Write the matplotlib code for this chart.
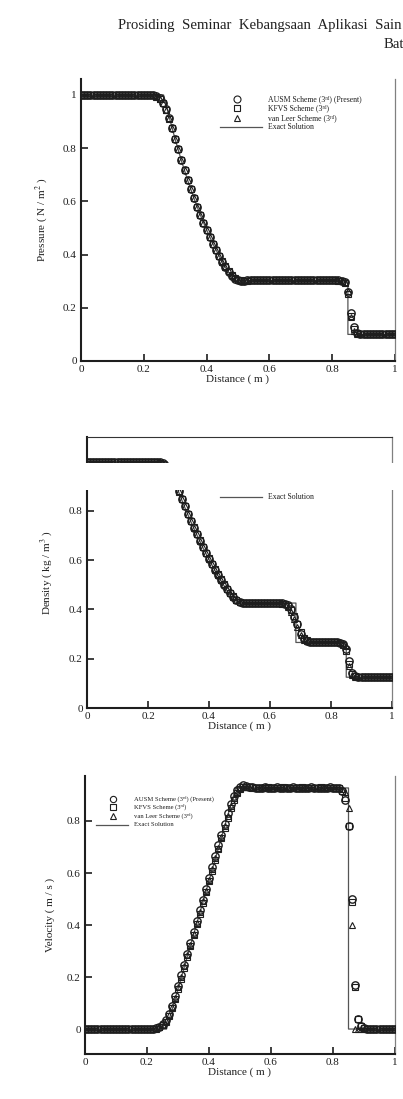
import numpy as np
import matplotlib
matplotlib.use('Agg')
import matplotlib.pyplot as plt
import matplotlib.transforms as mtransforms
from matplotlib.patches import Rectangle
from matplotlib.lines import Line2D
from matplotlib.ticker import FuncFormatter

plt.rcParams['font.family'] = ['Liberation Serif', 'DejaVu Serif']
plt.rcParams['mathtext.fontset'] = 'stix'

# mesh of the computed solution: 101 points on [0, 1]
x_cells = np.linspace(0.0, 1.0, 101)

# ---- pressure ----
exact_x_p = [0.0, 0.263, 0.28, 0.30, 0.32, 0.34, 0.36, 0.38, 0.40, 0.42, 0.44, 0.46, 0.48, 0.486, 0.850, 0.850, 1.0]
exact_p = [1.0, 1.0, 0.921, 0.833, 0.752, 0.678, 0.611, 0.549, 0.493, 0.441, 0.395, 0.352, 0.314, 0.303, 0.303, 0.100, 0.100]

p_ausm = [1.000, 1.000, 1.000, 1.000, 1.000, 1.000, 1.000, 1.000, 1.000, 1.000,
          1.000, 1.000, 1.000, 1.000, 1.000, 1.000, 1.000, 1.000, 1.000, 1.000,
          1.000, 1.000, 1.000, 0.999, 0.996, 0.988, 0.971, 0.946, 0.913, 0.875,
          0.835, 0.795, 0.756, 0.718, 0.681, 0.645, 0.611, 0.579, 0.548, 0.519,
          0.491, 0.465, 0.440, 0.416, 0.394, 0.373, 0.353, 0.336, 0.321, 0.310,
          0.304, 0.302, 0.302, 0.303, 0.303, 0.304, 0.303, 0.303, 0.303, 0.304,
          0.303, 0.303, 0.303, 0.304, 0.303, 0.303, 0.303, 0.303, 0.304, 0.303,
          0.303, 0.303, 0.304, 0.303, 0.303, 0.303, 0.303, 0.304, 0.303, 0.303,
          0.303, 0.303, 0.303, 0.302, 0.296, 0.258, 0.182, 0.126, 0.107, 0.102,
          0.101, 0.100, 0.100, 0.100, 0.100, 0.100, 0.100, 0.100, 0.100, 0.100,
          0.100]
p_kfvs = [1.000, 1.000, 1.000, 1.000, 1.000, 1.000, 1.000, 1.000, 1.000, 1.000,
          1.000, 1.000, 1.000, 1.000, 1.000, 1.000, 1.000, 1.000, 1.000, 1.000,
          1.000, 1.000, 0.999, 0.998, 0.994, 0.985, 0.968, 0.943, 0.911, 0.874,
          0.835, 0.796, 0.757, 0.719, 0.682, 0.646, 0.612, 0.580, 0.549, 0.520,
          0.492, 0.466, 0.441, 0.418, 0.396, 0.375, 0.356, 0.339, 0.324, 0.313,
          0.306, 0.303, 0.302, 0.302, 0.303, 0.303, 0.303, 0.303, 0.304, 0.303,
          0.303, 0.303, 0.303, 0.303, 0.303, 0.304, 0.303, 0.303, 0.303, 0.303,
          0.303, 0.304, 0.303, 0.303, 0.303, 0.303, 0.303, 0.303, 0.304, 0.303,
          0.303, 0.303, 0.302, 0.300, 0.292, 0.250, 0.170, 0.122, 0.106, 0.101,
          0.100, 0.100, 0.100, 0.100, 0.100, 0.100, 0.100, 0.100, 0.100, 0.100,
          0.100]
p_vanleer = [1.000, 1.000, 1.000, 1.000, 1.000, 1.000, 1.000, 1.000, 1.000, 1.000,
             1.000, 1.000, 1.000, 1.000, 1.000, 1.000, 1.000, 1.000, 1.000, 1.000,
             1.000, 1.000, 1.000, 0.999, 0.995, 0.986, 0.969, 0.944, 0.912, 0.874,
             0.835, 0.795, 0.756, 0.718, 0.681, 0.645, 0.611, 0.579, 0.548, 0.519,
             0.491, 0.465, 0.440, 0.417, 0.395, 0.374, 0.355, 0.338, 0.323, 0.312,
             0.305, 0.302, 0.302, 0.303, 0.303, 0.303, 0.304, 0.303, 0.303, 0.303,
             0.303, 0.304, 0.303, 0.303, 0.303, 0.303, 0.303, 0.304, 0.303, 0.303,
             0.303, 0.303, 0.303, 0.303, 0.304, 0.303, 0.303, 0.303, 0.303, 0.303,
             0.303, 0.303, 0.303, 0.302, 0.298, 0.262, 0.165, 0.112, 0.102, 0.100,
             0.100, 0.100, 0.100, 0.100, 0.100, 0.100, 0.100, 0.100, 0.100, 0.100,
             0.100]

# ---- density ----
exact_x_rho = [0.0, 0.263, 0.28, 0.30, 0.32, 0.34, 0.36, 0.38, 0.40, 0.42, 0.44, 0.46, 0.48, 0.486,
               0.685, 0.685, 0.850, 0.850, 1.0]
exact_rho = [1.0, 1.0, 0.943, 0.878, 0.816, 0.758, 0.703, 0.651, 0.603, 0.557, 0.515, 0.475, 0.437, 0.426,
             0.426, 0.266, 0.266, 0.125, 0.125]

rho_ausm = [1.000, 1.000, 1.000, 1.000, 1.000, 1.000, 1.000, 1.000, 1.000, 1.000,
            1.000, 1.000, 1.000, 1.000, 1.000, 1.000, 1.000, 1.000, 1.000, 1.000,
            1.000, 1.000, 1.000, 1.000, 0.998, 0.993, 0.981, 0.963, 0.939, 0.910,
            0.879, 0.848, 0.818, 0.789, 0.760, 0.732, 0.705, 0.679, 0.654, 0.630,
            0.606, 0.584, 0.562, 0.541, 0.521, 0.501, 0.483, 0.466, 0.450, 0.437,
            0.429, 0.426, 0.425, 0.426, 0.426, 0.426, 0.427, 0.426, 0.426, 0.426,
            0.426, 0.426, 0.426, 0.426, 0.425, 0.423, 0.418, 0.400, 0.370, 0.340,
            0.302, 0.281, 0.271, 0.267, 0.266, 0.266, 0.266, 0.266, 0.266, 0.266,
            0.266, 0.266, 0.266, 0.265, 0.258, 0.240, 0.190, 0.143, 0.129, 0.126,
            0.125, 0.125, 0.125, 0.125, 0.125, 0.125, 0.125, 0.125, 0.125, 0.125,
            0.125]
rho_kfvs = [1.000, 1.000, 1.000, 1.000, 1.000, 1.000, 1.000, 1.000, 1.000, 1.000,
            1.000, 1.000, 1.000, 1.000, 1.000, 1.000, 1.000, 1.000, 1.000, 1.000,
            1.000, 1.000, 1.000, 0.999, 0.996, 0.990, 0.977, 0.959, 0.936, 0.908,
            0.878, 0.848, 0.818, 0.789, 0.761, 0.733, 0.706, 0.680, 0.655, 0.631,
            0.607, 0.585, 0.563, 0.542, 0.522, 0.503, 0.485, 0.468, 0.453, 0.440,
            0.431, 0.427, 0.426, 0.425, 0.426, 0.426, 0.426, 0.426, 0.427, 0.426,
            0.426, 0.426, 0.426, 0.425, 0.424, 0.421, 0.414, 0.398, 0.372, 0.342,
            0.308, 0.286, 0.274, 0.269, 0.267, 0.266, 0.266, 0.266, 0.266, 0.266,
            0.266, 0.266, 0.266, 0.265, 0.256, 0.232, 0.180, 0.140, 0.128, 0.126,
            0.125, 0.125, 0.125, 0.125, 0.125, 0.125, 0.125, 0.125, 0.125, 0.125,
            0.125]
rho_vanleer = [1.000, 1.000, 1.000, 1.000, 1.000, 1.000, 1.000, 1.000, 1.000, 1.000,
               1.000, 1.000, 1.000, 1.000, 1.000, 1.000, 1.000, 1.000, 1.000, 1.000,
               1.000, 1.000, 1.000, 1.000, 0.997, 0.991, 0.979, 0.961, 0.937, 0.909,
               0.879, 0.848, 0.818, 0.789, 0.760, 0.732, 0.705, 0.679, 0.654, 0.630,
               0.606, 0.584, 0.562, 0.541, 0.521, 0.502, 0.484, 0.467, 0.452, 0.439,
               0.430, 0.426, 0.425, 0.426, 0.426, 0.426, 0.426, 0.427, 0.426, 0.426,
               0.426, 0.426, 0.426, 0.426, 0.425, 0.422, 0.410, 0.390, 0.362, 0.330,
               0.296, 0.278, 0.270, 0.267, 0.266, 0.266, 0.266, 0.266, 0.266, 0.266,
               0.266, 0.266, 0.266, 0.266, 0.262, 0.250, 0.170, 0.132, 0.126, 0.125,
               0.125, 0.125, 0.125, 0.125, 0.125, 0.125, 0.125, 0.125, 0.125, 0.125,
               0.125]

# ---- velocity ----
exact_x_u = [0.0, 0.263, 0.486, 0.850, 0.850, 1.0]
exact_u = [0.0, 0.0, 0.927, 0.927, 0.0, 0.0]

u_ausm = [0.000, 0.000, 0.000, 0.000, 0.000, 0.000, 0.000, 0.000, 0.000, 0.000,
          0.000, 0.000, 0.000, 0.000, 0.000, 0.000, 0.000, 0.000, 0.000, 0.000,
          0.000, 0.000, 0.001, 0.003, 0.008, 0.018, 0.034, 0.058, 0.090, 0.127,
          0.166, 0.207, 0.248, 0.290, 0.331, 0.373, 0.414, 0.456, 0.497, 0.539,
          0.580, 0.622, 0.664, 0.706, 0.748, 0.790, 0.830, 0.866, 0.896, 0.918,
          0.932, 0.937, 0.934, 0.931, 0.929, 0.928, 0.928, 0.928, 0.929, 0.928,
          0.928, 0.928, 0.929, 0.928, 0.928, 0.928, 0.928, 0.929, 0.928, 0.928,
          0.928, 0.928, 0.928, 0.929, 0.928, 0.928, 0.928, 0.928, 0.928, 0.929,
          0.928, 0.927, 0.925, 0.915, 0.880, 0.780, 0.500, 0.170, 0.040, 0.010,
          0.003, 0.001, 0.000, 0.000, 0.000, 0.000, 0.000, 0.000, 0.000, 0.000,
          0.000]
u_kfvs = [0.000, 0.000, 0.000, 0.000, 0.000, 0.000, 0.000, 0.000, 0.000, 0.000,
          0.000, 0.000, 0.000, 0.000, 0.000, 0.000, 0.000, 0.000, 0.000, 0.000,
          0.000, 0.000, 0.001, 0.002, 0.006, 0.014, 0.028, 0.050, 0.080, 0.115,
          0.154, 0.194, 0.235, 0.277, 0.318, 0.360, 0.402, 0.443, 0.485, 0.526,
          0.568, 0.609, 0.651, 0.692, 0.733, 0.773, 0.812, 0.849, 0.881, 0.906,
          0.922, 0.930, 0.932, 0.930, 0.929, 0.928, 0.928, 0.928, 0.928, 0.929,
          0.928, 0.928, 0.928, 0.928, 0.929, 0.928, 0.928, 0.928, 0.928, 0.928,
          0.929, 0.928, 0.928, 0.928, 0.928, 0.928, 0.929, 0.928, 0.928, 0.928,
          0.928, 0.927, 0.925, 0.917, 0.890, 0.780, 0.490, 0.160, 0.040, 0.010,
          0.003, 0.001, 0.000, 0.000, 0.000, 0.000, 0.000, 0.000, 0.000, 0.000,
          0.000]
u_vanleer = [0.000, 0.000, 0.000, 0.000, 0.000, 0.000, 0.000, 0.000, 0.000, 0.000,
             0.000, 0.000, 0.000, 0.000, 0.000, 0.000, 0.000, 0.000, 0.000, 0.000,
             0.000, 0.000, 0.001, 0.003, 0.007, 0.016, 0.031, 0.054, 0.085, 0.121,
             0.160, 0.200, 0.242, 0.283, 0.325, 0.366, 0.408, 0.449, 0.491, 0.532,
             0.574, 0.615, 0.657, 0.698, 0.740, 0.781, 0.821, 0.858, 0.889, 0.912,
             0.926, 0.932, 0.931, 0.929, 0.928, 0.928, 0.928, 0.929, 0.928, 0.928,
             0.928, 0.928, 0.928, 0.928, 0.928, 0.929, 0.928, 0.928, 0.928, 0.928,
             0.928, 0.929, 0.928, 0.928, 0.928, 0.928, 0.928, 0.929, 0.928, 0.928,
             0.928, 0.928, 0.927, 0.922, 0.910, 0.850, 0.400, 0.000, 0.000, 0.000,
             0.000, 0.000, 0.000, 0.000, 0.000, 0.000, 0.000, 0.000, 0.000, 0.000,
             0.000]

labels = ['AUSM Scheme (3ʳᵈ) (Present)', 'KFVS Scheme (3ʳᵈ)',
          'van Leer Scheme (3ʳᵈ)', 'Exact Solution']
markers = [('o', 5.3), ('s', 4.3), ('^', 4.7)]

W, H = 403, 1099
ink = '#1e1e1e'
line_grey = '#555555'
fig = plt.figure(figsize=(W / 100, H / 100), dpi=100)


def add_axes_px(left, top, right, bottom):
    # axes placed by pixel edges of the page
    return fig.add_axes([left / W, 1 - bottom / H, (right - left) / W, (bottom - top) / H])


def draw_panel(ax, ex_x, ex_y, ausm, kfvs, vl):
    ax.plot(ex_x, ex_y, color=line_grey, lw=0.9, zorder=2)
    ax.plot(x_cells, vl, ls='none', marker='^', ms=markers[2][1], mfc='none', mec=ink, mew=0.8, zorder=3)
    ax.plot(x_cells, kfvs, ls='none', marker='s', ms=markers[1][1], mfc='none', mec=ink, mew=0.8, zorder=3)
    ax.plot(x_cells, ausm, ls='none', marker='o', ms=markers[0][1], mfc='none', mec=ink, mew=1.0, zorder=4)


def style(ax, ylim, yticks, ylabel, ylabel_x, top=False):
    ax.set_xlim(0, 1)
    ax.set_ylim(*ylim)
    ax.set_xticks([0, 0.2, 0.4, 0.6, 0.8, 1])
    ax.set_yticks(yticks)
    fmt = FuncFormatter(lambda v, p: '%g' % v)
    ax.xaxis.set_major_formatter(fmt)
    ax.yaxis.set_major_formatter(fmt)
    ax.tick_params(direction='in', length=5, width=1.2, labelsize=8, colors=ink, pad=3)
    for s in ['left', 'bottom']:
        ax.spines[s].set_linewidth(1.5)
        ax.spines[s].set_color(ink)
    ax.spines['right'].set_color('#808080')
    ax.spines['right'].set_linewidth(0.9)
    ax.spines['top'].set_visible(top)
    ax.spines['top'].set_color('#333333')
    ax.set_xlabel('Distance ( m )', fontsize=8, labelpad=0, color=ink)
    ax.set_ylabel(ylabel, fontsize=8, color=ink)
    ax.yaxis.set_label_coords(ylabel_x, 0.5)


def key_px(ax, mark_x, line_x0, line_x1, text_x, rows_y, fs, scale, rows=(0, 1, 2, 3)):
    # hand-placed key, in page pixels
    tf = fig.transFigure
    for i in rows:
        yy = 1 - rows_y[i] / H
        if i < 3:
            m, ms = markers[i]
            ax.add_line(Line2D([mark_x / W], [yy], transform=tf, ls='none', marker=m,
                               ms=ms * scale, mfc='none', mec=ink, mew=0.8, clip_on=False, zorder=5))
        else:
            ax.add_line(Line2D([line_x0 / W, line_x1 / W], [yy, yy], transform=tf,
                               color=line_grey, lw=0.9, clip_on=False, zorder=5))
        ax.text(text_x / W, yy, labels[i], transform=tf, fontsize=fs, color=ink,
                ha='left', va='center', zorder=5)


# header of the scanned page
fig.text(402 / W, 1 - 25 / H, 'Prosiding  Seminar  Kebangsaan  Aplikasi  Sain', fontsize=10.6, color='#222222',
         ha='right', va='center')
fig.text(384 / W, 1 - 45 / H, 'Bat', fontsize=10.6, color='#222222', ha='left', va='center')

# pressure
ax1 = add_axes_px(81, 79, 395, 361)
draw_panel(ax1, exact_x_p, exact_p, p_ausm, p_kfvs, p_vanleer)
style(ax1, (0, 1.06), [0, 0.2, 0.4, 0.6, 0.8, 1], 'Pressure ( N / m$^2$ )', -0.098)
key_px(ax1, 237, 220, 262, 268, [99, 108, 118, 127], 5.6, 0.95)

# density (top strip of the scan is blanked out, only the last key row shows)
ax2 = add_axes_px(87, 437, 392, 708)
draw_panel(ax2, exact_x_rho, exact_rho, rho_ausm, rho_kfvs, rho_vanleer)
style(ax2, (0, 1.10), [0, 0.2, 0.4, 0.6, 0.8], 'Density ( kg / m$^3$ )', -0.105, top=True)
key_px(ax2, 237, 220, 262, 268, [470, 479, 488, 497], 5.6, 0.95, rows=(3,))
band = mtransforms.blended_transform_factory(ax2.transAxes, ax2.transData)
ax2.add_patch(Rectangle((-0.2, 0.886), 1.4, 0.109, transform=band, facecolor='white',
                        edgecolor='none', zorder=10, clip_on=False))

# velocity
ax3 = add_axes_px(85, 776, 395, 1054)
draw_panel(ax3, exact_x_u, exact_u, u_ausm, u_kfvs, u_vanleer)
style(ax3, (-0.096, 0.973), [0, 0.2, 0.4, 0.6, 0.8], 'Velocity ( m / s )', -0.097)
key_px(ax3, 113, 96, 128, 134, [799, 807, 816, 825], 4.8, 0.85)

fig.savefig('out.png', dpi=100)
